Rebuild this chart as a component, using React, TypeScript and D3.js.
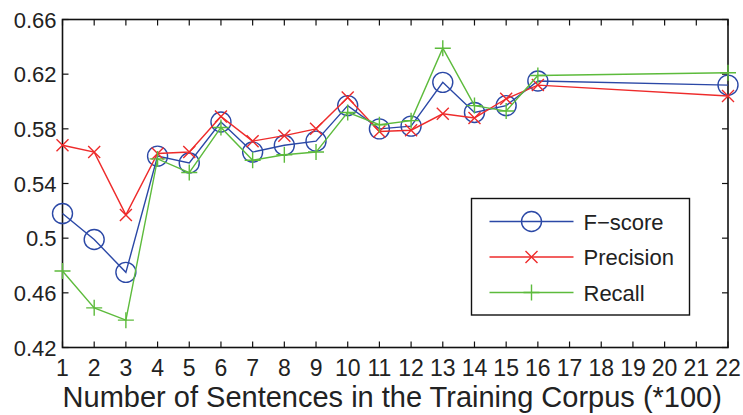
import React, { useEffect, useRef } from "react";
import * as d3 from "d3";

// x positions (hundreds of sentences)
const sizes = [1, 2, 3, 4, 5, 6, 7, 8, 9, 10, 11, 12, 13, 14, 15, 16, 22];
const fscore = [0.518, 0.499, 0.475, 0.56, 0.555, 0.585, 0.563, 0.568, 0.571, 0.597, 0.58, 0.582, 0.614, 0.592, 0.597, 0.615, 0.612];
const precision = [0.568, 0.563, 0.517, 0.562, 0.563, 0.589, 0.571, 0.575, 0.58, 0.603, 0.578, 0.579, 0.591, 0.588, 0.602, 0.612, 0.604];
const recall = [0.476, 0.449, 0.44, 0.558, 0.548, 0.581, 0.557, 0.561, 0.563, 0.592, 0.583, 0.586, 0.639, 0.597, 0.593, 0.619, 0.621];
const xTicks = d3.range(1, 23);
const yTicks = [0.42, 0.46, 0.5, 0.54, 0.58, 0.62, 0.66];

const series = [
  { name: "F\u2212score", values: fscore, color: "#2b48a6", marker: "circle" },
  { name: "Precision", values: precision, color: "#ee2b2b", marker: "x" },
  { name: "Recall", values: recall, color: "#5dbb3c", marker: "plus" },
];

const W = 743;
const H = 415;
const margin = { top: 19.5, right: 15, bottom: 67.5, left: 62.5 };

const App = () => {
  const svgRef = useRef<SVGSVGElement>(null);

  useEffect(() => {
    const svg = d3.select(svgRef.current);
    svg.selectAll("*").remove();
    const font = "'Liberation Sans', Arial, sans-serif";

    const x = d3.scaleLinear().domain([1, 22]).range([margin.left, W - margin.right]);
    const y = d3.scaleLinear().domain([0.42, 0.66]).range([H - margin.bottom, margin.top]);
    const [x0, x1] = x.range();
    const [y0, y1] = y.range();
    const tick = 6;

    // box
    svg.append("rect")
      .attr("x", x0).attr("y", y1)
      .attr("width", x1 - x0).attr("height", y0 - y1)
      .attr("fill", "none").attr("stroke", "#111").attr("stroke-width", 1.6);

    // ticks (inward, mirrored)
    const g = svg.append("g").attr("stroke", "#111").attr("stroke-width", 1.2);
    xTicks.forEach((t) => {
      g.append("line").attr("x1", x(t)).attr("x2", x(t)).attr("y1", y0).attr("y2", y0 - tick);
      g.append("line").attr("x1", x(t)).attr("x2", x(t)).attr("y1", y1).attr("y2", y1 + tick);
    });
    yTicks.forEach((t) => {
      g.append("line").attr("x1", x0).attr("x2", x0 + tick).attr("y1", y(t)).attr("y2", y(t));
      g.append("line").attr("x1", x1).attr("x2", x1 - tick).attr("y1", y(t)).attr("y2", y(t));
    });

    // tick labels
    svg.append("g").selectAll("text").data(xTicks).join("text")
      .attr("x", (d) => x(d)).attr("y", y0 + 28)
      .attr("text-anchor", "middle")
      .attr("font-family", font).attr("font-size", 23).attr("fill", "#222")
      .text((d) => d);
    svg.append("g").selectAll("text").data(yTicks).join("text")
      .attr("x", x0 - 6).attr("y", (d) => y(d) + 8)
      .attr("text-anchor", "end")
      .attr("font-family", font).attr("font-size", 22).attr("fill", "#222")
      .text((d) => d3.format(".2f")(d).replace(/0$/, ""));

    svg.append("text")
      .attr("x", (x0 + x1) / 2 - 3).attr("y", 407)
      .attr("text-anchor", "middle")
      .attr("font-family", font).attr("font-size", 29).attr("fill", "#222")
      .text("Number of Sentences in the Training Corpus (*100)");

    const drawMarker = (sel: any, type: string, cx: number, cy: number, color: string) => {
      if (type === "circle") {
        sel.append("circle").attr("cx", cx).attr("cy", cy).attr("r", 10)
          .attr("fill", "none").attr("stroke", color).attr("stroke-width", 1.4);
      } else if (type === "x") {
        const s = 6;
        sel.append("path")
          .attr("d", `M${cx - s},${cy - s}L${cx + s},${cy + s}M${cx - s},${cy + s}L${cx + s},${cy - s}`)
          .attr("stroke", color).attr("stroke-width", 1.4).attr("fill", "none");
      } else {
        const s = 8;
        sel.append("path")
          .attr("d", `M${cx - s},${cy}L${cx + s},${cy}M${cx},${cy - s}L${cx},${cy + s}`)
          .attr("stroke", color).attr("stroke-width", 1.4).attr("fill", "none");
      }
    };

    const line = d3.line<number>().x((_, i) => x(sizes[i])).y((d) => y(d));
    series.forEach((s) => {
      const sg = svg.append("g");
      sg.append("path").attr("d", line(s.values))
        .attr("fill", "none").attr("stroke", s.color).attr("stroke-width", 1.4);
      s.values.forEach((v, i) => drawMarker(sg, s.marker, x(sizes[i]), y(v), s.color));
    });

    // legend
    const lx = 471.5, ly = 198.5, lw = 218, lh = 116.5;
    const lg = svg.append("g");
    lg.append("rect").attr("x", lx).attr("y", ly).attr("width", lw).attr("height", lh)
      .attr("fill", "#fff").attr("stroke", "#111").attr("stroke-width", 1.4);
    series.forEach((s, i) => {
      const cy = ly + 23 + i * 35.5;
      lg.append("line").attr("x1", lx + 18).attr("x2", lx + 102).attr("y1", cy).attr("y2", cy)
        .attr("stroke", s.color).attr("stroke-width", 1.4);
      drawMarker(lg, s.marker, lx + 60, cy, s.color);
      lg.append("text").attr("x", lx + 112).attr("y", cy + 8)
        .attr("font-family", font).attr("font-size", 22).attr("fill", "#222")
        .text(s.name);
    });
  }, []);

  return (
    <svg ref={svgRef} width={W} height={H}
      style={{ position: "absolute", left: 0, top: 0, background: "#fff" }} />
  );
};

export default App;
